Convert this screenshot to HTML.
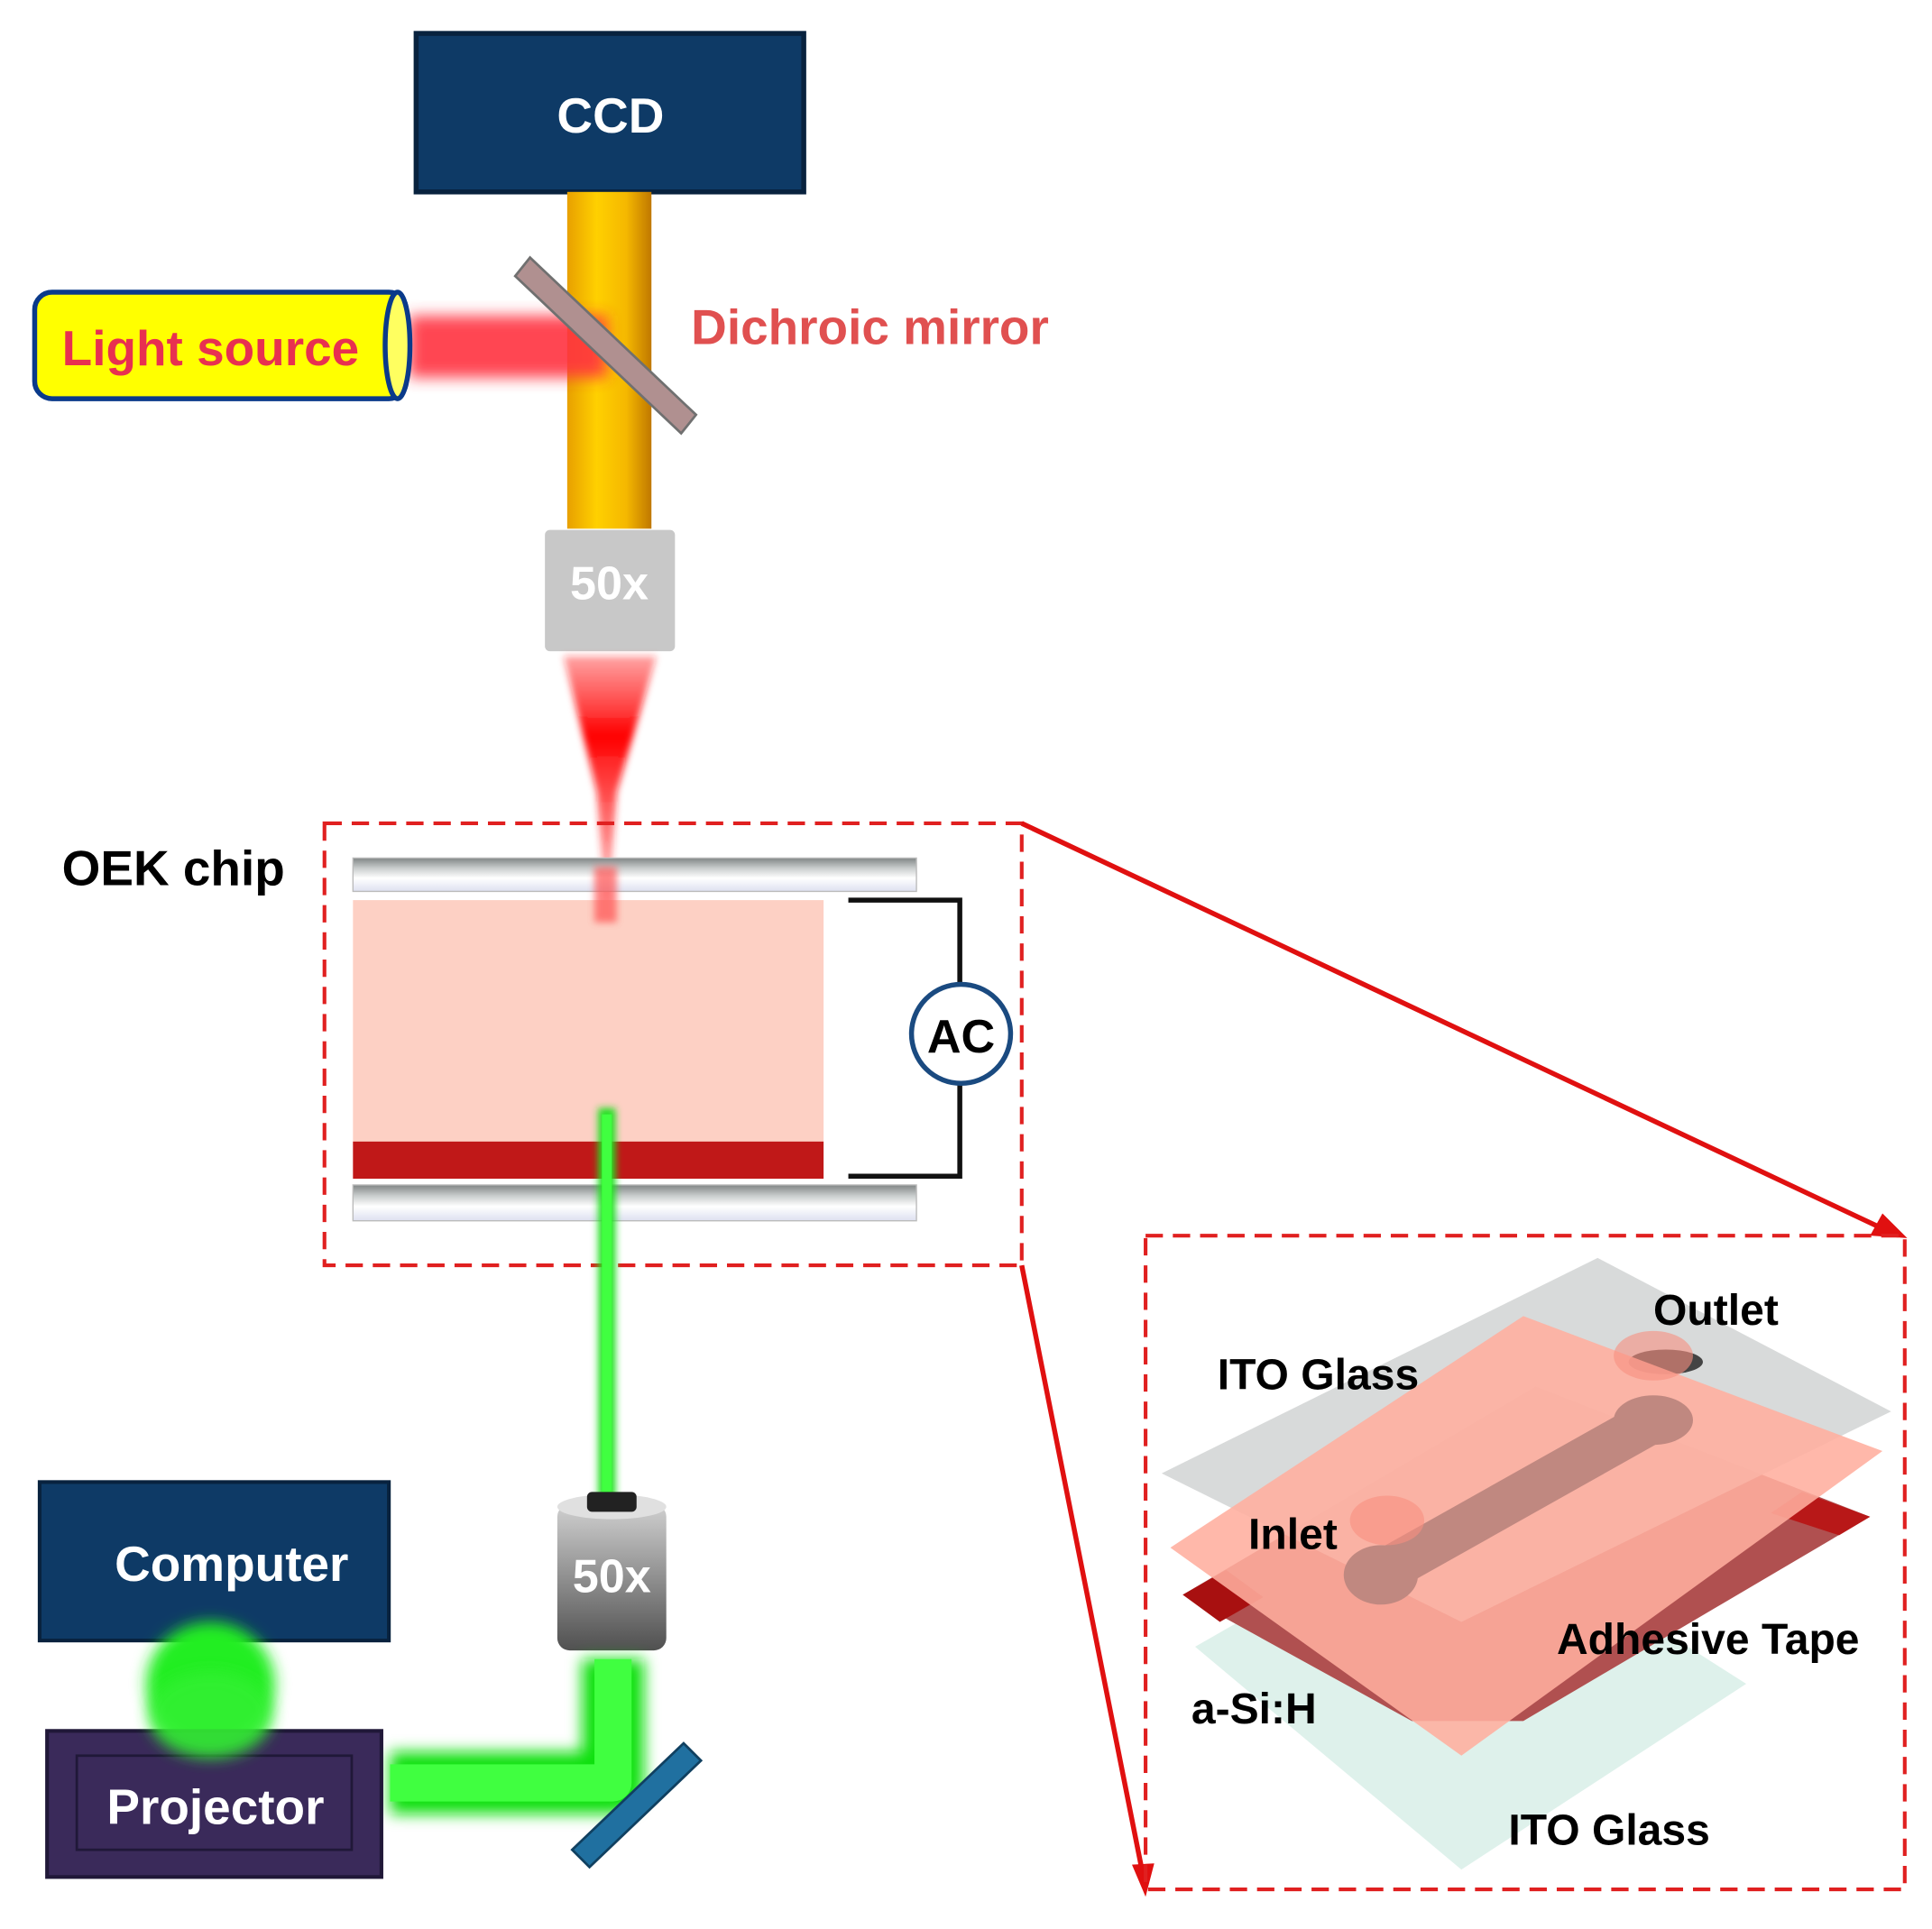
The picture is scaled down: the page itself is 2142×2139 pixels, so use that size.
<!DOCTYPE html>
<html><head><meta charset="utf-8"><style>html,body{margin:0;padding:0;background:#fff}svg{display:block}</style></head>
<body>
<svg width="2142" height="2139" viewBox="0 0 1560 1558" preserveAspectRatio="none" xmlns="http://www.w3.org/2000/svg" font-family="Liberation Sans, Arial, sans-serif" font-weight="bold">
<defs>
<linearGradient id="gold" x1="0" x2="1"><stop offset="0" stop-color="#e8a000"/><stop offset="0.35" stop-color="#ffd000"/><stop offset="0.7" stop-color="#f5b800"/><stop offset="1" stop-color="#c07800"/></linearGradient>
<linearGradient id="cone" x1="0" y1="0" x2="0" y2="1"><stop offset="0" stop-color="#ff2020" stop-opacity="0.4"/><stop offset="0.3" stop-color="#ff0000"/><stop offset="1" stop-color="#ff4040" stop-opacity="0.2"/></linearGradient>
<linearGradient id="obj2" x1="0" y1="0" x2="0" y2="1"><stop offset="0" stop-color="#d0d0d0"/><stop offset="1" stop-color="#505050"/></linearGradient>
<linearGradient id="glass" x1="0" y1="0" x2="0" y2="1"><stop offset="0" stop-color="#808585"/><stop offset="0.3" stop-color="#c8cccc"/><stop offset="0.6" stop-color="#ffffff"/><stop offset="1" stop-color="#dde0f0"/></linearGradient>
<filter id="blur" x="-50%" y="-50%" width="200%" height="200%"><feGaussianBlur stdDeviation="6"/></filter>
<filter id="blur2" x="-50%" y="-50%" width="200%" height="200%"><feGaussianBlur stdDeviation="3"/></filter>
</defs>

<rect x="336" y="27" width="313" height="128" fill="#0e3a66" stroke="#08223e" stroke-width="4"/>
<text x="493" y="107" font-size="40" fill="#fff" text-anchor="middle">CCD</text>

<rect x="458" y="155" width="68" height="272" fill="url(#gold)"/>
<rect x="330" y="255" width="160" height="50" fill="#ff3040" filter="url(#blur)" opacity="0.9"/>

<rect x="28" y="236" width="300" height="86" rx="14" fill="#ffff00" stroke="#0a3a8a" stroke-width="4"/>
<ellipse cx="321" cy="279" rx="10" ry="43" fill="#ffff60" stroke="#0a3a8a" stroke-width="4"/>
<text x="170" y="295" font-size="40" fill="#e83050" text-anchor="middle">Light source</text>

<polygon points="428,208 562,335 550,350 416,223" fill="#b09090" stroke="#707070" stroke-width="2"/>
<text x="558" y="278" font-size="40" fill="#e05050">Dichroic mirror</text>

<rect x="440" y="428" width="105" height="98" rx="4" fill="#c8c8c8"/>
<text x="492" y="484" font-size="38" fill="#fff" text-anchor="middle">50x</text>

<polygon points="455,530 530,530 498,640 490,745 482,640" fill="url(#cone)" filter="url(#blur2)"/>

<text x="50" y="715" font-size="40" fill="#000">OEK chip</text>
<rect x="262" y="665" width="563" height="357" fill="none" stroke="#e02020" stroke-width="3" stroke-dasharray="14,8"/>
<polygon points="285,693 740,693 740,720 285,720" fill="url(#glass)" stroke="#bbb"/>
<rect x="285" y="727" width="380" height="198" fill="#fdd0c4"/>
<rect x="285" y="922" width="380" height="30" fill="#c01818"/>
<polygon points="285,957 740,957 740,986 285,986" fill="url(#glass)" stroke="#bbb"/>
<rect x="480" y="700" width="18" height="45" fill="#ff5050" filter="url(#blur2)" opacity="0.7"/>
<polyline points="685,727 775,727 775,795" fill="none" stroke="#111" stroke-width="4"/>
<polyline points="685,950 775,950 775,875" fill="none" stroke="#111" stroke-width="4"/>
<circle cx="776" cy="835" r="40" fill="#fff" stroke="#1a4a80" stroke-width="4"/>
<text x="776" y="850" font-size="38" fill="#000" text-anchor="middle">AC</text>

<rect x="483" y="895" width="14" height="315" fill="#20e020" filter="url(#blur2)"/>
<rect x="486" y="900" width="8" height="305" fill="#40ff40"/>

<rect x="450" y="1215" width="88" height="118" rx="10" fill="url(#obj2)"/>
<ellipse cx="494" cy="1217" rx="44" ry="10" fill="#e0e0e0"/>
<rect x="474" y="1205" width="40" height="16" rx="4" fill="#222"/>
<text x="494" y="1286" font-size="38" fill="#fff" text-anchor="middle">50x</text>

<path d="M495,1340 L495,1440 L315,1440" fill="none" stroke="#10e010" stroke-width="50" filter="url(#blur)" stroke-linejoin="round"/>
<path d="M495,1340 L495,1440 L315,1440" fill="none" stroke="#40ff40" stroke-width="30" stroke-linejoin="round"/>

<polygon points="552,1408 566,1422 476,1508 462,1494" fill="#2070a0" stroke="#104060" stroke-width="2"/>

<rect x="32" y="1197" width="282" height="128" fill="#0e3a66" stroke="#08223e" stroke-width="3"/>
<ellipse cx="170" cy="1360" rx="52" ry="50" fill="#20ee20" filter="url(#blur)"/>
<text x="187" y="1277" font-size="40" fill="#fff" text-anchor="middle">Computer</text>

<rect x="38" y="1398" width="270" height="118" fill="#3a2a5a" stroke="#201838" stroke-width="3"/>
<rect x="62" y="1418" width="222" height="76" fill="none" stroke="#201838" stroke-width="2"/>
<ellipse cx="170" cy="1385" rx="50" ry="35" fill="#30f030" filter="url(#blur)" opacity="0.9"/>
<text x="174" y="1473" font-size="40" fill="#fff" text-anchor="middle">Projector</text>

<line x1="825" y1="665" x2="1530" y2="997" stroke="#e01010" stroke-width="4"/>
<polygon points="1540,1000 1510,998 1520,980" fill="#e01010"/>
<line x1="825" y1="1022" x2="924" y2="1520" stroke="#e01010" stroke-width="4"/>
<polygon points="925,1532 914,1506 932,1505" fill="#e01010"/>

<rect x="925" y="998" width="613" height="528" fill="none" stroke="#e02020" stroke-width="3" stroke-dasharray="14,8"/>
<polygon points="965,1330 1175,1210 1410,1360 1180,1510" fill="#d8eee8" opacity="0.85"/>
<polygon points="955,1288 1240,1120 1510,1225 1230,1390 1140,1390" fill="#b05050"/>
<polygon points="955,1288 990,1268 1020,1290 985,1310" fill="#a81010"/>
<polygon points="1455,1205 1510,1225 1485,1240 1430,1222" fill="#b81818"/>
<polygon points="938,1190 1290,1016 1527,1140 1180,1310" fill="#d4d6d6" opacity="0.9"/>
<ellipse cx="1345" cy="1100" rx="30" ry="10" fill="#444"/>
<polygon points="945,1250 1230,1063 1520,1172 1180,1418" fill="#ffae9e" opacity="0.88"/>
<line x1="1120" y1="1268" x2="1330" y2="1150" stroke="#c08880" stroke-width="36" stroke-linecap="round"/>
<ellipse cx="1115" cy="1272" rx="30" ry="24" fill="#c08880"/>
<ellipse cx="1335" cy="1147" rx="32" ry="20" fill="#c08880"/>
<ellipse cx="1120" cy="1228" rx="30" ry="20" fill="#f89080" opacity="0.6"/>
<ellipse cx="1335" cy="1095" rx="32" ry="20" fill="#f89080" opacity="0.6"/>

<text x="983" y="1122" font-size="35" fill="#000">ITO Glass</text>
<text x="1335" y="1070" font-size="35" fill="#000">Outlet</text>
<text x="1008" y="1251" font-size="35" fill="#000">Inlet</text>
<text x="1257" y="1336" font-size="35" fill="#000">Adhesive Tape</text>
<text x="962" y="1392" font-size="35" fill="#000">a-Si:H</text>
<text x="1218" y="1490" font-size="35" fill="#000">ITO Glass</text>
</svg>
</body></html>
